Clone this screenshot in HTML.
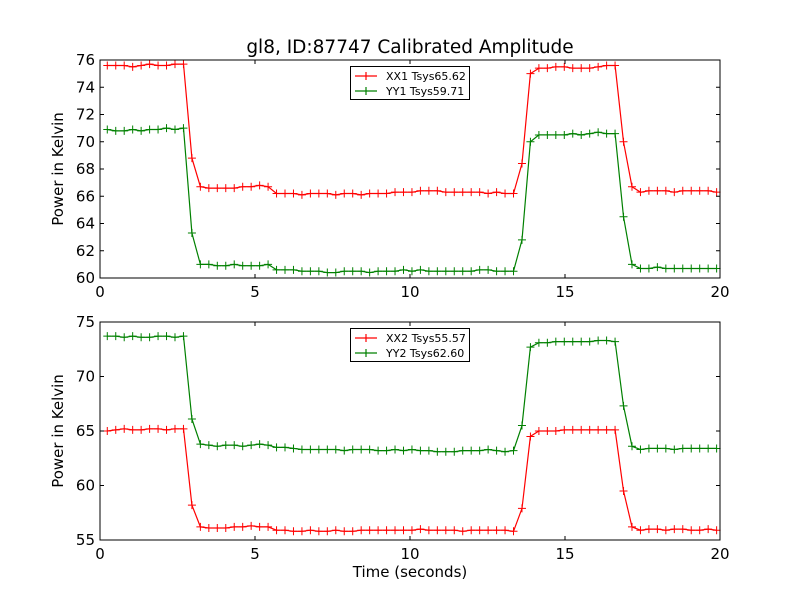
<!DOCTYPE html>
<html><head><meta charset="utf-8"><style>
body{margin:0;background:#fff;}
svg text{font-family:"DejaVu Sans","Liberation Sans",sans-serif;}
</style></head><body>
<svg id="chart" width="800" height="600" viewBox="0 0 800 600" xmlns="http://www.w3.org/2000/svg">
<rect width="800" height="600" fill="#fff"/>
<text x="410" y="53" font-size="18.5" text-anchor="middle">gl8, ID:87747 Calibrated Amplitude</text>
<g id="p1"></g><g id="p2"></g>
<text x="410" y="577" font-size="15" text-anchor="middle">Time (seconds)</text>
</svg>
<script>
const xx1 = [75.6,75.6,75.6,75.5,75.6,75.7,75.6,75.6,75.7,75.7,
68.8,66.7,66.6,66.6,66.6,66.6,66.7,66.7,66.8,66.7,
66.2,66.2,66.2,66.1,66.2,66.2,66.2,66.1,66.2,66.2,66.1,66.2,66.2,66.2,66.3,66.3,66.3,66.4,66.4,66.4,66.3,66.3,66.3,66.3,66.3,66.2,66.3,66.2,66.2,
68.4,75.0,75.4,75.4,75.5,75.5,75.4,75.4,75.4,75.5,75.6,75.6,
70.0,66.7,66.3,66.4,66.4,66.4,66.3,66.4,66.4,66.4,66.4,66.3];
const yy1 = [70.9,70.8,70.8,70.9,70.8,70.9,70.9,71.0,70.9,71.0,
63.3,61.0,61.0,60.9,60.9,61.0,60.9,60.9,60.9,61.0,
60.6,60.6,60.6,60.5,60.5,60.5,60.4,60.4,60.5,60.5,60.5,60.4,60.5,60.5,60.5,60.6,60.5,60.6,60.5,60.5,60.5,60.5,60.5,60.5,60.6,60.6,60.5,60.5,60.5,
62.8,70.0,70.5,70.5,70.5,70.5,70.6,70.5,70.6,70.7,70.6,70.6,
64.5,61.0,60.7,60.7,60.8,60.7,60.7,60.7,60.7,60.7,60.7,60.7];
const xx2 = [65.0,65.1,65.2,65.1,65.1,65.2,65.2,65.1,65.2,65.2,
58.2,56.2,56.1,56.1,56.1,56.2,56.2,56.3,56.2,56.2,
55.9,55.9,55.8,55.8,55.9,55.8,55.8,55.9,55.8,55.8,55.9,55.9,55.9,55.9,55.9,55.9,55.9,56.0,55.9,55.9,55.9,55.9,55.8,55.9,55.9,55.9,55.9,55.9,55.8,
57.9,64.5,65.0,65.0,65.0,65.1,65.1,65.1,65.1,65.1,65.1,65.1,
59.5,56.2,55.9,56.0,56.0,55.9,56.0,56.0,55.9,55.9,56.0,55.9];
const yy2 = [73.7,73.7,73.6,73.7,73.6,73.6,73.7,73.7,73.6,73.7,
66.1,63.8,63.7,63.6,63.7,63.7,63.6,63.7,63.8,63.7,
63.5,63.5,63.4,63.3,63.3,63.3,63.3,63.3,63.2,63.3,63.3,63.3,63.2,63.2,63.3,63.2,63.3,63.2,63.2,63.1,63.1,63.1,63.2,63.2,63.2,63.3,63.2,63.1,63.2,
65.5,72.7,73.1,73.1,73.2,73.2,73.2,73.2,73.2,73.3,73.3,73.2,
67.3,63.6,63.3,63.4,63.4,63.4,63.3,63.4,63.4,63.4,63.4,63.4];
const sampleStart = 0.235, sampleStep = 0.273;
const times = xx1.map((_, i) => sampleStart + sampleStep * i);
const xTicks = [0,5,10,15,20];
const yTicks1 = [60,62,64,66,68,70,72,74,76];
const yTicks2 = [55,60,65,70,75];
const legend1 = ["XX1 Tsys65.62","YY1 Tsys59.71"];
const legend2 = ["XX2 Tsys55.57","YY2 Tsys62.60"];

const NS = "http://www.w3.org/2000/svg";
function mk(tag, attrs, parent){const e=document.createElementNS(NS,tag);for(const k in attrs)e.setAttribute(k,attrs[k]);parent.appendChild(e);return e;}

function panel(g, top, yTicks, series, labels, name){
  const L=100,R=720,T=top,B=top+218;
  const ymin=yTicks[0], ymax=yTicks[yTicks.length-1];
  const xs=v=>L+(v-0)/(20-0)*(R-L);
  const ys=v=>B-(v-ymin)/(ymax-ymin)*(B-T);
  const colors=["#ff0000","#008000"];
  series.forEach((s,si)=>{
    const pts=s.map((v,i)=>xs(times[i]).toFixed(1)+","+ys(v).toFixed(1)).join(" ");
    const pl=mk("polyline",{points:pts,fill:"none",stroke:colors[si],"stroke-width":1.2},g);
    
    
    let d="";
    s.forEach((v,i)=>{const x=xs(times[i]),y=ys(v);d+=`M${x-4},${y}h8M${x},${y-4}v8`;});
    const m=mk("path",{d:d,stroke:colors[si],"stroke-width":1,fill:"none"},g);
    
    
  });
  const fr=mk("rect",{x:L,y:T,width:R-L,height:B-T,fill:"none",stroke:"#000","stroke-width":1},g);
  
  
  xTicks.forEach(t=>{
    const x=xs(t);
    mk("path",{d:`M${x},${B}v-4M${x},${T}v4`,stroke:"#000"},g);
    const tx=mk("text",{x:x,y:B+19,"font-size":15,"text-anchor":"middle"},g);
    tx.textContent=t;
    
    
  });
  yTicks.forEach(t=>{
    const y=ys(t);
    mk("path",{d:`M${L},${y}h4M${R},${y}h-4`,stroke:"#000"},g);
    const tx=mk("text",{x:L-5,y:y+5,"font-size":15,"text-anchor":"end"},g);
    tx.textContent=t;
    
    
  });
  const yl=mk("text",{x:0,y:0,"font-size":15,"text-anchor":"middle",transform:`translate(63,${(T+B)/2}) rotate(-90)`},g);
  yl.textContent="Power in Kelvin";
  
  
  const lg=mk("g",{},g);
  
  
  mk("rect",{x:350.5,y:T+6.5,width:119,height:33,fill:"#fff",stroke:"#000","stroke-width":1},lg);
  labels.forEach((lab,i)=>{
    const y=T+16+i*15;
    mk("path",{d:`M355,${y}h22M366,${y-4}v8`,stroke:colors[i],"stroke-width":1.2},lg);
    const tx=mk("text",{x:386,y:y+4,"font-size":11},lg);
    tx.textContent=lab;
    
    
  });
}
const g1=document.getElementById("p1");


const g2=document.getElementById("p2");


panel(g1,60,yTicks1,[xx1,yy1],legend1,"top");
panel(g2,322,yTicks2,[xx2,yy2],legend2,"bottom");
</script>
</body></html>
